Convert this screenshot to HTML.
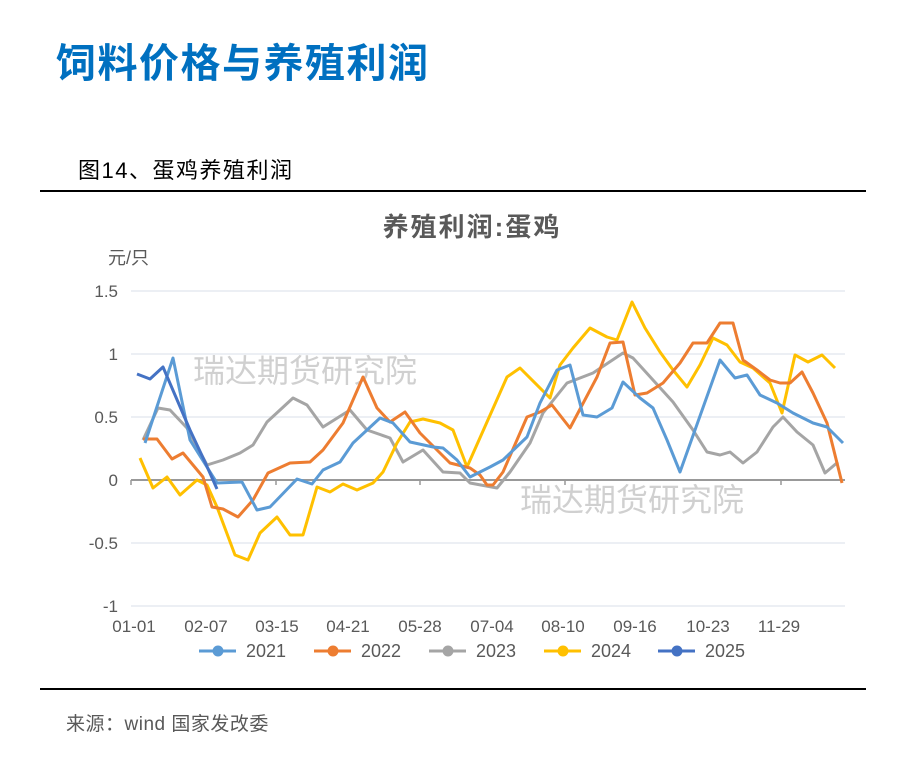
<!DOCTYPE html>
<html><head><meta charset="utf-8"><style>
body{margin:0;background:#fff;width:917px;height:760px;overflow:hidden;font-family:"Liberation Sans","Noto Sans CJK SC",sans-serif}
</style></head><body>
<svg width="917" height="760" xmlns="http://www.w3.org/2000/svg" style="position:absolute;left:0;top:0" font-family="Liberation Sans, Noto Sans CJK SC, sans-serif">
<text x="56" y="77" font-size="40" font-weight="bold" fill="#0070c0" letter-spacing="1.5">饲料价格与养殖利润</text>
<text x="78" y="178" font-size="22" fill="#000" letter-spacing="1.5">图14、蛋鸡养殖利润</text>
<line x1="40" y1="191" x2="866" y2="191" stroke="#000" stroke-width="2"/>
<line x1="40" y1="689" x2="866" y2="689" stroke="#000" stroke-width="2"/>
<text x="472" y="236" font-size="26" font-weight="bold" fill="#595959" text-anchor="middle" letter-spacing="2">养殖利润:蛋鸡</text>
<text x="108" y="264" font-size="18" fill="#595959">元/只</text>
<g stroke="#e6eaf0" stroke-width="1.5">
<line x1="131" y1="291" x2="845" y2="291"/><line x1="131" y1="354" x2="845" y2="354"/><line x1="131" y1="417" x2="845" y2="417"/><line x1="131" y1="543" x2="845" y2="543"/><line x1="131" y1="606" x2="845" y2="606"/>
</g>
<line x1="131" y1="480" x2="845" y2="480" stroke="#999" stroke-width="2"/>
<g stroke="#999" stroke-width="1.5"><line x1="131" y1="480" x2="131" y2="485"/><line x1="276" y1="480" x2="276" y2="485"/><line x1="420" y1="480" x2="420" y2="485"/><line x1="565" y1="480" x2="565" y2="485"/><line x1="781" y1="480" x2="781" y2="485"/></g>
<g font-size="17" fill="#595959" text-anchor="end">
<text x="118" y="297">1.5</text><text x="118" y="360">1</text><text x="118" y="423">0.5</text><text x="118" y="486">0</text><text x="118" y="549">-0.5</text><text x="118" y="612">-1</text>
</g>
<g font-size="17" fill="#595959" text-anchor="middle">
<text x="134" y="632">01-01</text><text x="206" y="632">02-07</text><text x="277" y="632">03-15</text><text x="348" y="632">04-21</text><text x="420" y="632">05-28</text><text x="492" y="632">07-04</text><text x="563" y="632">08-10</text><text x="635" y="632">09-16</text><text x="708" y="632">10-23</text><text x="779" y="632">11-29</text>
</g>
<text x="193" y="382" font-size="32" fill="#d0d0d0">瑞达期货研究院</text>
<text x="520" y="511" font-size="32" fill="#d0d0d0">瑞达期货研究院</text>
<g fill="none" stroke-width="3" stroke-linejoin="round">
<polyline stroke="#a5a5a5" points="143,440 158,408 170,410 187,428 207,465 223,460 240,453 253,445 267,422 293,398 307,405 323,427 350,410 367,430 390,438 403,462 423,450 443,472 460,473 470,483 497,488 510,472 530,443 543,413 567,383 593,373 623,353 633,358 653,380 673,402 693,430 707,452 720,455 730,452 743,463 757,452 773,427 783,417 797,432 813,445 825,473 838,462"/>
<polyline stroke="#ffc000" points="140,458 153,488 167,477 180,495 197,480 207,485 217,507 235,555 248,560 260,533 277,517 290,535 303,535 317,487 330,492 343,484 357,490 373,483 383,472 397,443 410,422 423,419 440,423 453,430 467,467 487,422 507,377 520,368 550,398 560,365 573,348 590,328 607,337 617,340 632,302 645,328 660,352 673,370 687,387 700,365 713,338 727,345 740,362 753,368 770,383 782,413 795,355 808,362 822,355 835,368"/>
<polyline stroke="#ed7d31" points="143,439 157,439 172,459 183,453 203,477 212,507 223,509 238,517 253,500 268,473 290,463 310,462 323,450 343,423 363,377 377,408 390,422 405,412 420,433 437,450 450,463 470,468 480,475 487,485 493,485 503,472 527,417 540,412 552,405 570,428 597,377 610,343 623,342 635,395 647,393 663,383 680,363 693,343 707,343 720,323 733,323 743,360 757,370 770,380 780,383 790,383 802,372 813,393 827,423 842,483"/>
<polyline stroke="#5b9bd5" points="145,443 173,358 190,440 217,483 242,482 257,510 270,507 297,479 312,484 323,470 340,462 353,443 380,418 393,423 410,442 433,447 443,448 457,460 470,477 490,467 503,460 527,437 540,403 557,370 570,365 583,415 597,417 612,408 623,382 640,398 653,408 667,440 680,472 720,360 735,378 747,375 760,395 777,403 793,413 813,423 827,427 843,443"/>
<polyline stroke="#4472c4" points="137,374 150,379 163,367 175,395 190,430 205,462 217,489"/>
</g>
<g font-size="18" fill="#595959" stroke-width="3">
<line x1="199" y1="651" x2="236" y2="651" stroke="#5b9bd5"/><circle cx="218" cy="651" r="5.5" fill="#5b9bd5"/><text x="246" y="657">2021</text>
<line x1="314" y1="651" x2="351" y2="651" stroke="#ed7d31"/><circle cx="333" cy="651" r="5.5" fill="#ed7d31"/><text x="361" y="657">2022</text>
<line x1="429" y1="651" x2="466" y2="651" stroke="#a5a5a5"/><circle cx="448" cy="651" r="5.5" fill="#a5a5a5"/><text x="476" y="657">2023</text>
<line x1="544" y1="651" x2="581" y2="651" stroke="#ffc000"/><circle cx="563" cy="651" r="5.5" fill="#ffc000"/><text x="591" y="657">2024</text>
<line x1="658" y1="651" x2="695" y2="651" stroke="#4472c4"/><circle cx="677" cy="651" r="5.5" fill="#4472c4"/><text x="705" y="657">2025</text>
</g>
<text x="66" y="730" font-size="19" fill="#595959" letter-spacing="0.5">来源：wind  国家发改委</text>
</svg>
</body></html>
